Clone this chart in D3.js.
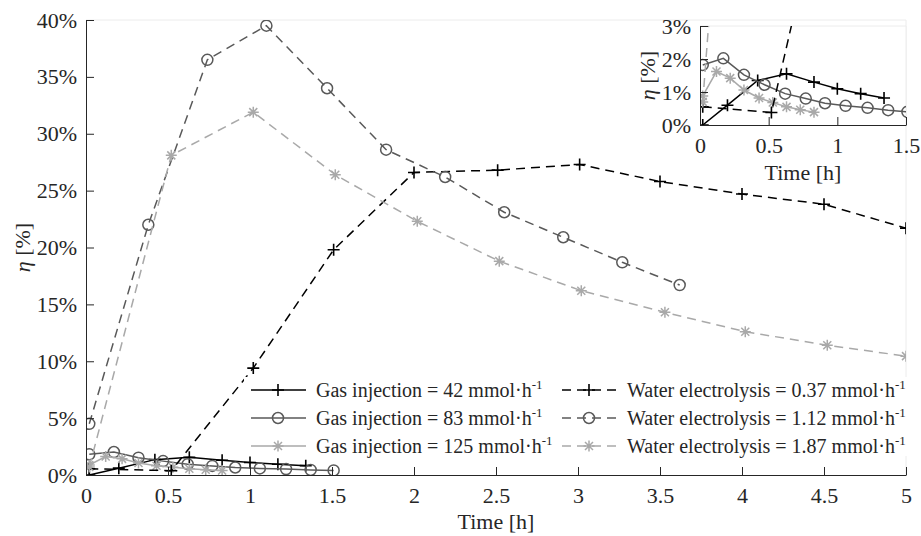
<!DOCTYPE html>
<html>
<head>
<meta charset="utf-8">
<script src="https://cdn.jsdelivr.net/npm/d3@7"></script>
<style>
  body { margin: 0; background: #fff; }
  text { font-family: "Liberation Serif", "Times New Roman", serif; fill: #262626; }
</style>
</head>
<body>
<div id="chart"></div>
<script>
// time [h] and efficiency [%]
const gasTime42 = [0.02, 0.2, 0.42, 0.63, 0.83, 1.0, 1.17, 1.34];
const gas42 = [0.0, 0.6, 1.35, 1.55, 1.3, 1.1, 0.95, 0.82];
const gasTime83 = [0.02, 0.17, 0.32, 0.47, 0.62, 0.77, 0.91, 1.06, 1.22, 1.37, 1.51];
const gas83 = [1.82, 2.02, 1.52, 1.22, 0.95, 0.8, 0.66, 0.58, 0.52, 0.45, 0.4];
const gasTime125 = [0.02, 0.12, 0.22, 0.32, 0.43, 0.53, 0.63, 0.73, 0.83];
const gas125 = [0.88, 1.62, 1.42, 1.06, 0.82, 0.68, 0.55, 0.46, 0.39];
const waterTime037 = [0.02, 0.52, 1.02, 1.51, 2.0, 2.51, 3.01, 3.5, 4.0, 4.5, 5.0];
const water037 = [0.55, 0.38, 9.4, 19.8, 26.6, 26.8, 27.3, 25.8, 24.7, 23.8, 21.7];
const waterTime112 = [0.02, 0.38, 0.74, 1.10, 1.47, 1.83, 2.19, 2.55, 2.91, 3.27, 3.62];
const water112 = [4.5, 22.0, 36.5, 39.5, 34.0, 28.6, 26.2, 23.1, 20.9, 18.7, 16.7];
const waterTime187 = [0.02, 0.52, 1.02, 1.52, 2.02, 2.52, 3.02, 3.53, 4.02, 4.52, 5.0];
const water187 = [0.7, 28.1, 31.9, 26.4, 22.3, 18.8, 16.2, 14.3, 12.6, 11.4, 10.45];

const xTicks = [0, 0.5, 1, 1.5, 2, 2.5, 3, 3.5, 4, 4.5, 5];
const yTicks = [0, 5, 10, 15, 20, 25, 30, 35, 40];
const insetXTicks = [0, 0.5, 1, 1.5];
const insetYTicks = [0, 1, 2, 3];

const legendLabels = [
  ["Gas injection = 42 mmol·h", "Water electrolysis = 0.37 mmol·h"],
  ["Gas injection = 83 mmol·h", "Water electrolysis = 1.12 mmol·h"],
  ["Gas injection = 125 mmol·h", "Water electrolysis = 1.87 mmol·h"]
];

const black = "#000000", dark = "#595959", light = "#a9a9a9";

const series = [
  {t: gasTime42, v: gas42, color: black, marker: "plus", dash: null},
  {t: gasTime83, v: gas83, color: dark, marker: "circle", dash: null},
  {t: gasTime125, v: gas125, color: light, marker: "star", dash: null},
  {t: waterTime037, v: water037, color: black, marker: "plus", dash: "9,6"},
  {t: waterTime112, v: water112, color: dark, marker: "circle", dash: "9,6"},
  {t: waterTime187, v: water187, color: light, marker: "star", dash: "9,6"}
];

const W = 921, H = 536;
const svg = d3.select("#chart").append("svg").attr("width", W).attr("height", H);

function drawMarker(sel, type, color) {
  if (type === "circle") {
    sel.append("circle").attr("r", 5.5).style("fill", "none").style("stroke", color).style("stroke-width", 1.5);
  } else if (type === "plus") {
    sel.append("path").attr("d", "M-6,0H6M0,-6V6").style("stroke", color).style("stroke-width", 1.6);
  } else {
    sel.append("path").attr("d", "M-5.5,0H5.5M0,-5.5V5.5M-4,-4L4,4M-4,4L4,-4").style("stroke", color).style("stroke-width", 1.5);
  }
}

function drawPanel(g, x, y, xt, yt, id) {
  const x0 = x.range()[0], x1 = x.range()[1], y0 = y.range()[0], y1 = y.range()[1];

  g.append("rect").attr("x", x0).attr("y", y1).attr("width", x1 - x0).attr("height", y0 - y1).style("fill", "#fff");
  // faint box
  g.append("path")
    .attr("d", "M" + x0 + "," + y1 + "H" + x1 + "V" + y0)
    .style("fill", "none").style("stroke", "#ececec").style("stroke-width", 1);

  g.append("clipPath").attr("id", id)
    .append("rect").attr("x", x0).attr("y", y1).attr("width", x1 - x0).attr("height", y0 - y1);

  const plot = g.append("g").attr("clip-path", "url(#" + id + ")");
  const line = d3.line().x(function (d) { return x(d[0]); }).y(function (d) { return y(d[1]); });

  series.forEach(function (s) {
    const pts = s.t.map(function (t, i) { return [t, s.v[i]]; });
    plot.append("path")
      .datum(pts)
      .attr("d", line)
      .style("fill", "none")
      .style("stroke", s.color)
      .style("stroke-width", 1.5)
      .style("stroke-dasharray", s.dash);
    const m = plot.selectAll(null)
      .data(pts)
      .enter()
      .append("g")
      .attr("transform", function (d) { return "translate(" + x(d[0]) + "," + y(d[1]) + ")"; });
    drawMarker(m, s.marker, s.color);
  });

  const xAxis = g.append("g")
    .attr("transform", "translate(0," + y0 + ")")
    .call(d3.axisBottom(x).tickValues(xt).tickSizeInner(-8).tickSizeOuter(0).tickPadding(9)
      .tickFormat(function (d) { return String(d); }));
  const yAxis = g.append("g")
    .attr("transform", "translate(" + x0 + ",0)")
    .call(d3.axisLeft(y).tickValues(yt).tickSizeInner(-8).tickSizeOuter(0).tickPadding(9)
      .tickFormat(function (d) { return d + "%"; }));

  [xAxis, yAxis].forEach(function (a) {
    a.selectAll("path, line").style("stroke", "#262626").style("stroke-width", 1);
    a.selectAll("text")
      .style("font-family", "'Liberation Serif', serif")
      .style("font-size", "22px")
      .style("fill", "#262626");
  });
  xAxis.selectAll("text").attr("dy", "0.85em");
  return plot;
}

// main axes
const x = d3.scaleLinear().domain([0, 5]).range([86, 906]);
const y = d3.scaleLinear().domain([0, 40]).range([475, 20]);
const main = svg.append("g");
drawPanel(main, x, y, xTicks, yTicks, "clipMain");

main.append("text")
  .attr("x", (x(0) + x(5)) / 2).attr("y", 529)
  .attr("text-anchor", "middle").style("font-size", "22px")
  .text("Time [h]");

const yl = main.append("text")
  .attr("transform", "translate(30," + ((y(0) + y(40)) / 2) + ") rotate(-90)")
  .attr("text-anchor", "middle").style("font-size", "22px");
yl.append("tspan").style("font-style", "italic").text("η");
yl.append("tspan").text(" [%]");

// legend
const legend = main.append("g");
legend.append("rect").attr("x", 244).attr("y", 377).attr("width", 664).attr("height", 79).style("fill", "#fff");
const colX = [251, 562];
const textX = [316, 627];
const rowY = [390, 418, 446];
const legendSeries = [[0, 3], [1, 4], [2, 5]];
legendLabels.forEach(function (row, r) {
  row.forEach(function (lab, c) {
    const s = series[legendSeries[r][c]];
    legend.append("line")
      .attr("x1", colX[c]).attr("x2", colX[c] + 55)
      .attr("y1", rowY[r]).attr("y2", rowY[r])
      .style("stroke", s.color).style("stroke-width", 1.5)
      .style("stroke-dasharray", s.dash ? "9,6" : null);
    const m = legend.append("g").attr("transform", "translate(" + (colX[c] + 27) + "," + rowY[r] + ")");
    drawMarker(m, s.marker, s.color);
    const t = legend.append("text")
      .attr("x", textX[c]).attr("y", rowY[r] + 7)
      .style("font-size", "20px");
    t.append("tspan").text(lab);
    t.append("tspan").attr("dy", "-8").style("font-size", "13px").text("-1");
  });
});

// inset
const inset = svg.append("g");
const xi = d3.scaleLinear().domain([0, 1.5]).range([700, 906]);
const yi = d3.scaleLinear().domain([0, 3]).range([125, 26]);
drawPanel(inset, xi, yi, insetXTicks, insetYTicks, "clipInset");

inset.append("text")
  .attr("x", (xi(0) + xi(1.5)) / 2).attr("y", 180)
  .attr("text-anchor", "middle").style("font-size", "22px")
  .text("Time [h]");
const yli = inset.append("text")
  .attr("transform", "translate(655," + ((yi(0) + yi(3)) / 2) + ") rotate(-90)")
  .attr("text-anchor", "middle").style("font-size", "22px");
yli.append("tspan").style("font-style", "italic").text("η");
yli.append("tspan").text(" [%]");
</script>
</body>
</html>
